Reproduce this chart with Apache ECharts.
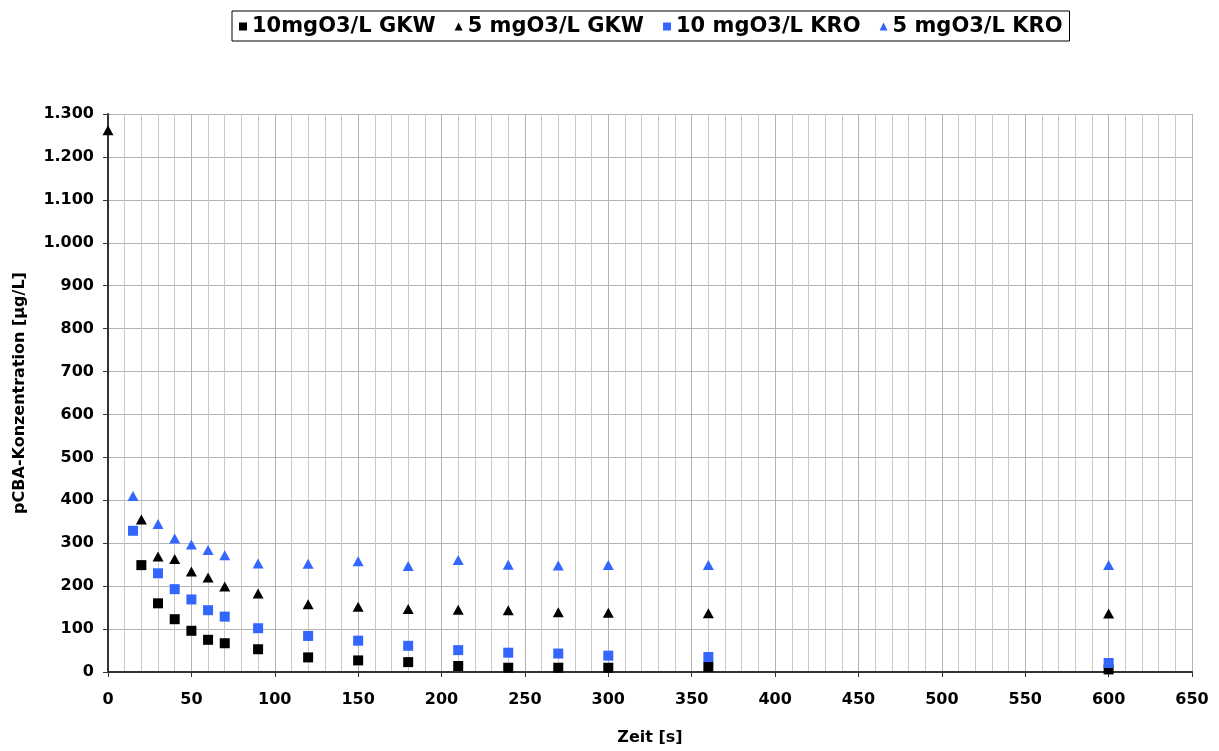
<!DOCTYPE html>
<html>
<head>
<meta charset="utf-8">
<script src="https://cdn.jsdelivr.net/npm/echarts@6/dist/echarts.min.js"></script>
<style>html,body{margin:0;padding:0;background:#fff;}#c{width:1219px;height:751px;}</style>
</head>
<body>
<div id="c"></div>
<script>
var seriesNames = ['10mgO3/L GKW', '5 mgO3/L GKW', '10 mgO3/L KRO', '5 mgO3/L KRO'];
var gkw10X = [20, 30, 40, 50, 60, 70, 90, 120, 150, 180, 210, 240, 270, 300, 360, 600];
var gkw10Y = [249, 160, 123, 96, 75, 67, 53, 34, 27, 23, 14, 10, 10, 10, 12, 6];
var gkw5X = [0, 20, 30, 40, 50, 60, 70, 90, 120, 150, 180, 210, 240, 270, 300, 360, 600];
var gkw5Y = [1262, 355, 269, 263, 234, 220, 199, 183, 158, 152, 147, 145, 144, 139, 138, 137, 136];
var kro10X = [15, 30, 40, 50, 60, 70, 90, 120, 150, 180, 210, 240, 270, 300, 360, 600];
var kro10Y = [329, 230, 193, 169, 144, 129, 102, 84, 73, 61, 51, 45, 43, 38, 35, 21];
var kro5X = [15, 30, 40, 50, 60, 70, 90, 120, 150, 180, 210, 240, 270, 300, 360, 600];
var kro5Y = [410, 345, 311, 297, 284, 272, 253, 252, 258, 247, 261, 250, 248, 249, 249, 249];
var xTicks = [0, 50, 100, 150, 200, 250, 300, 350, 400, 450, 500, 550, 600, 650];
var yTicks = [0, 100, 200, 300, 400, 500, 600, 700, 800, 900, 1000, 1100, 1200, 1300];

function pairs(xs, ys) { return xs.map(function (x, i) { return [x, ys[i]]; }); }

var colors = ['#000000', '#000000', '#3366ff', '#3366ff'];
var symbols = ['rect', 'triangle', 'rect', 'triangle'];
var datas = [pairs(gkw10X, gkw10Y), pairs(gkw5X, gkw5Y), pairs(kro10X, kro10Y), pairs(kro5X, kro5Y)];

var chart = echarts.init(document.getElementById('c'), null, { renderer: 'canvas' });
var fontFam = '"DejaVu Sans", sans-serif';
chart.setOption({
  animation: false,
  backgroundColor: '#ffffff',
  textStyle: { fontFamily: fontFam },
  legend: {
    left: 232, top: 11,
    padding: [5, 7, 4, 7],
    itemGap: 19,
    itemWidth: 8, itemHeight: 8,
    borderColor: '#000', borderWidth: 1,
    textStyle: { fontSize: 21, fontWeight: 'bold', color: '#000', fontFamily: fontFam },
    data: seriesNames.map(function (n, i) { return { name: n, icon: symbols[i] }; })
  },
  grid: { left: 108, right: 27, top: 114, bottom: 79, containLabel: false },
  xAxis: {
    type: 'value', min: 0, max: 650, interval: 50,
    name: 'Zeit [s]', nameLocation: 'middle', nameGap: 58,
    nameTextStyle: { fontSize: 16, fontWeight: 'bold', color: '#000' },
    axisLine: { show: true, lineStyle: { color: '#333', width: 2 } },
    axisTick: { show: true, length: 5, lineStyle: { color: '#333' } },
    axisLabel: { fontSize: 16, fontWeight: 'bold', color: '#000', margin: 20,
      formatter: function (v) { return xTicks.indexOf(v) >= 0 ? String(v) : ''; } },
    splitLine: { show: true, lineStyle: { color: '#b4b4b4', width: 1 } },
    minorTick: { show: false, splitNumber: 5 },
    minorSplitLine: { show: true, lineStyle: { color: '#c8c8c8', width: 1 } }
  },
  yAxis: {
    type: 'value', min: 0, max: 1300, interval: 100,
    name: 'pCBA-Konzentration [µg/L]', nameLocation: 'middle', nameGap: 80, nameRotate: 90,
    nameTextStyle: { fontSize: 16, fontWeight: 'bold', color: '#000' },
    axisLine: { show: true, lineStyle: { color: '#333', width: 2 } },
    axisTick: { show: true, length: 5, lineStyle: { color: '#333' } },
    axisLabel: { fontSize: 16, fontWeight: 'bold', color: '#000', margin: 14,
      formatter: function (v) {
        if (yTicks.indexOf(v) < 0) return '';
        if (v >= 1000) { var s = String(v); return s.slice(0, s.length - 3) + '.' + s.slice(-3); }
        return String(v);
      } },
    splitLine: { show: true, lineStyle: { color: '#b4b4b4', width: 1 } }
  },
  series: seriesNames.map(function (n, i) {
    return {
      name: n, type: 'scatter', data: datas[i],
      symbol: symbols[i], symbolSize: symbols[i] === 'rect' ? 10 : [11, 10],
      itemStyle: { color: colors[i], opacity: 1 }
    };
  })
});
</script>
</body>
</html>
